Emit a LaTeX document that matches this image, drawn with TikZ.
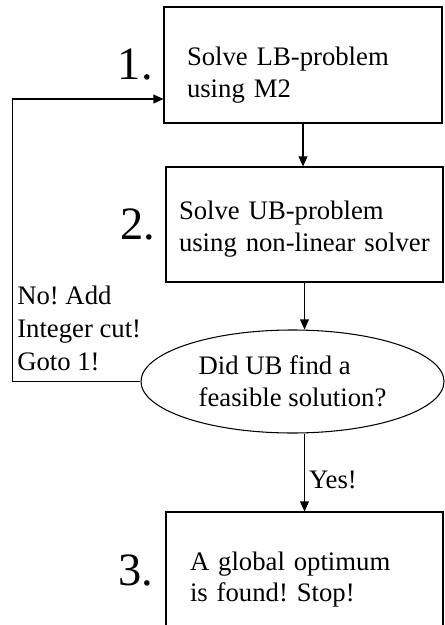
\documentclass[tikz,border=0pt]{standalone}
\usepackage{fontspec}
\setmainfont{Liberation Serif}
\usepackage{tikz}
\usetikzlibrary{arrows.meta,positioning,shapes.geometric}
\frenchspacing

\begin{document}
\begin{tikzpicture}[
 txt/.style={font=\fontsize{19}{22.5}\selectfont,align=left},
 stepbox/.style={txt,draw,line width=0.75pt,rectangle,minimum height=2.9cm},
 test/.style={txt,draw,line width=0.75pt,ellipse,inner sep=0pt,minimum width=7.575cm,minimum height=2.575cm},
 num/.style={font=\fontsize{33}{40}\selectfont,inner sep=0pt},
 arr/.style={-{Triangle[length=0.25cm,width=0.22cm]},line width=0.75pt}]
 \useasboundingbox (0,0) rectangle (11.125,-15.625);
 \clip (0,0) rectangle (11.125,-15.625);
 % the three steps
 \node[stepbox,text width=5.8cm,inner xsep=0.575cm,text height=28pt] (lb) at (7.575,-1.625) {Solve LB-problem\\using M2};
 \node[stepbox,text width=6.275cm,inner xsep=0.325cm,minimum height=2.875cm,text height=20pt] (ub) at (7.6125,-5.6125) {Solve UB-problem\\using non-linear solver};
 \node[test] (feas) at (7.3125,-9.5375) {Did UB find a\\feasible solution?};
 \node[stepbox,text width=5.725cm,inner xsep=0.6cm,text height=26.6pt] (done) at (7.6125,-14.25) {A global optimum\\is found! Stop!};
 % step numbers
 \node[num,left=0.26cm of lb] (n1) {1.};
 \node[num,left=0.26cm of ub] (n2) {2.};
 \node[num,left=0.3cm of done] (n3) {3.};
 % flow
 \draw[arr] (lb.south) -- (lb.south |- ub.north);
 \draw[arr] (ub.south) -- (ub.south |- feas.north);
 \draw[arr] (done.north |- feas.south) -- node[txt,right,pos=0.6,inner sep=0.1cm] (yes) {Yes!} (done.north);
 % back to step 1
 \draw[arr] (feas.west) -- ++(-3.2,0) |- ([yshift=-0.85cm]lb.west);
 \node[txt,anchor=south west,inner sep=0pt,font=\fontsize{19}{23.4}\selectfont] (no) at (0.425,-9.275) {No! Add\\Integer cut!\\Goto 1!};
\end{tikzpicture}
\end{document}
